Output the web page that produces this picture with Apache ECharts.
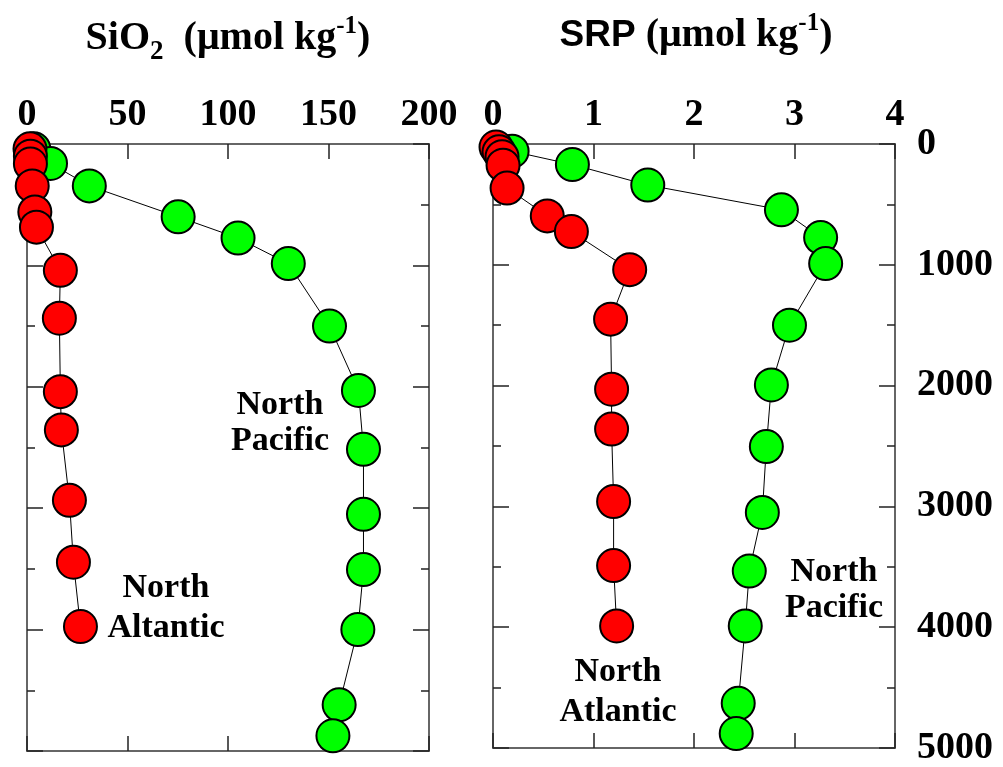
<!DOCTYPE html>
<html><head><meta charset="utf-8">
<script src="https://cdn.jsdelivr.net/npm/echarts@6/dist/echarts.min.js"></script>
<style>html,body{margin:0;padding:0;background:#fff}#c{width:1003px;height:767px}</style>
</head><body><div id="c"></div>
<script>
// Tick labels
const depthTicks = [0, 1000, 2000, 3000, 4000, 5000];
const sioTicks = [0, 50, 100, 150, 200];
const srpTicks = [0, 1, 2, 3, 4];

// SiO2 panel
const npSiDepth = [40, 160, 345, 600, 775, 985, 1500, 2030, 2515, 3050, 3505, 4000, 4620, 4875];
const npSi      = [3.4, 11.7, 31, 75.2, 105, 130, 150.5, 164.9, 167.4, 167.4, 167.4, 164.6, 155.3, 152.2];
const naSiDepth = [40, 100, 165, 345, 560, 685, 1040, 1435, 2040, 2355, 2935, 3445, 3975];
const naSi      = [1.5, 1.7, 1.7, 2.6, 3.9, 4.7, 16.6, 16.1, 16.6, 17.1, 21.1, 23.1, 26.6];

// SRP panel
const npPDepth = [60, 170, 340, 545, 775, 990, 1500, 1995, 2505, 3050, 3535, 3990, 4630, 4880];
const npP      = [0.19, 0.79, 1.54, 2.87, 3.26, 3.31, 2.95, 2.77, 2.72, 2.68, 2.55, 2.51, 2.44, 2.42];
const naPDepth = [25, 65, 105, 175, 365, 595, 725, 1040, 1450, 2030, 2360, 2960, 3490, 3990];
const naP      = [0.03, 0.06, 0.09, 0.10, 0.14, 0.54, 0.78, 1.36, 1.17, 1.18, 1.18, 1.20, 1.20, 1.23];

const SERIF = 'Liberation Serif';
const frameColor = '#666';
const tickColor = '#222';

function pairs(xs, ys) { return xs.map((v, i) => [v, ys[i]]); }

function xAx(grid, ticks, pos, showLabel) {
  return {
    type: 'value', gridIndex: grid, position: pos,
    min: ticks[0], max: ticks[ticks.length - 1], interval: ticks[1] - ticks[0],
    axisLine: { show: true, onZero: false, lineStyle: { color: frameColor, width: 2 } },
    axisTick: { show: true, inside: true, length: 15, lineStyle: { color: tickColor, width: 1.5 } },
    axisLabel: { show: showLabel, margin: 10, fontSize: 38, fontWeight: 'bold', fontFamily: SERIF, color: '#000',
      showMinLabel: true, showMaxLabel: true, formatter: v => String(v) },
    splitLine: { show: false }
  };
}
function yAx(grid, pos, showLabel) {
  return {
    type: 'value', gridIndex: grid, position: pos, inverse: true,
    min: depthTicks[0], max: depthTicks[depthTicks.length - 1], interval: depthTicks[1] - depthTicks[0],
    axisLine: { show: true, onZero: false, lineStyle: { color: frameColor, width: 2 } },
    axisTick: { show: true, inside: true, length: 16, lineStyle: { color: tickColor, width: 1.5 } },
    minorTick: { show: true, splitNumber: 2, length: 8, lineStyle: { color: tickColor, width: 1.5 } },
    axisLabel: { show: showLabel, margin: 22, align: 'left', fontSize: 38, fontWeight: 'bold', fontFamily: SERIF, color: '#000',
      showMinLabel: true, showMaxLabel: true, formatter: v => String(v) },
    splitLine: { show: false }, minorSplitLine: { show: false }
  };
}
function ser(name, data, xi, yi, color) {
  return {
    name, type: 'line', data, xAxisIndex: xi, yAxisIndex: yi,
    symbol: 'circle', symbolSize: 33, clip: false,
    lineStyle: { color: '#000', width: 1 },
    itemStyle: { color: color, borderColor: '#000', borderWidth: 2 },
    emphasis: { disabled: true }, animation: false
  };
}

const chart = echarts.init(document.getElementById('c'), null, { renderer: 'canvas' });
chart.setOption({
  backgroundColor: '#fff',
  animation: false,
  grid: [
    { left: 27, top: 144, width: 402, height: 607 },
    { left: 493, top: 144, width: 402, height: 607 }
  ],
  xAxis: [xAx(0, sioTicks, 'top', true), xAx(0, sioTicks, 'bottom', false),
          xAx(1, srpTicks, 'top', true), xAx(1, srpTicks, 'bottom', false)],
  yAxis: [yAx(0, 'left', false), yAx(0, 'right', false),
          yAx(1, 'left', false), yAx(1, 'right', true)],
  series: [
    ser('North Pacific SiO2', pairs(npSi, npSiDepth), 0, 0, '#00ff00'),
    ser('North Atlantic SiO2', pairs(naSi, naSiDepth), 0, 0, '#ff0000'),
    ser('North Pacific SRP', pairs(npP, npPDepth), 2, 2, '#00ff00'),
    ser('North Atlantic SRP', pairs(naP, naPDepth), 2, 2, '#ff0000')
  ],
  graphic: [
    { type: 'text', x: 228, y: 39, silent: true, style: {
      text: '{a|SiO}{s|2}{a|  (μmol kg}{p|-1}{a|)}', align: 'center', verticalAlign: 'middle',
      rich: {
        a: { fontSize: 40, fontWeight: 'bold', fontFamily: SERIF, color: '#000' },
        s: { fontSize: 27, fontWeight: 'bold', fontFamily: SERIF, color: '#000', padding: [26, 0, 0, 0] },
        p: { fontSize: 25, fontWeight: 'bold', fontFamily: SERIF, color: '#000', padding: [0, 0, 24, 0] }
      } } },
    { type: 'text', x: 696, y: 36, silent: true, style: {
      text: '{b|SRP}{a| (μmol kg}{p|-1}{a|)}', align: 'center', verticalAlign: 'middle',
      rich: {
        a: { fontSize: 40, fontWeight: 'bold', fontFamily: SERIF, color: '#000' },
        b: { fontSize: 37, fontWeight: 'bold', fontFamily: 'Liberation Sans', color: '#000' },
        p: { fontSize: 25, fontWeight: 'bold', fontFamily: SERIF, color: '#000', padding: [0, 0, 24, 0] }
      } } },
    { type: 'text', x: 280, y: 423, silent: true, style: { text: 'North\nPacific', align: 'center', verticalAlign: 'middle',
      fontSize: 34, fontWeight: 'bold', fontFamily: SERIF, fill: '#000', lineHeight: 36 } },
    { type: 'text', x: 166, y: 608, silent: true, style: { text: 'North\nAltantic', align: 'center', verticalAlign: 'middle',
      fontSize: 34, fontWeight: 'bold', fontFamily: SERIF, fill: '#000', lineHeight: 40 } },
    { type: 'text', x: 834, y: 590, silent: true, style: { text: 'North\nPacific', align: 'center', verticalAlign: 'middle',
      fontSize: 34, fontWeight: 'bold', fontFamily: SERIF, fill: '#000', lineHeight: 36 } },
    { type: 'text', x: 618, y: 692, silent: true, style: { text: 'North\nAtlantic', align: 'center', verticalAlign: 'middle',
      fontSize: 34, fontWeight: 'bold', fontFamily: SERIF, fill: '#000', lineHeight: 40 } }
  ]
});
</script></body></html>
